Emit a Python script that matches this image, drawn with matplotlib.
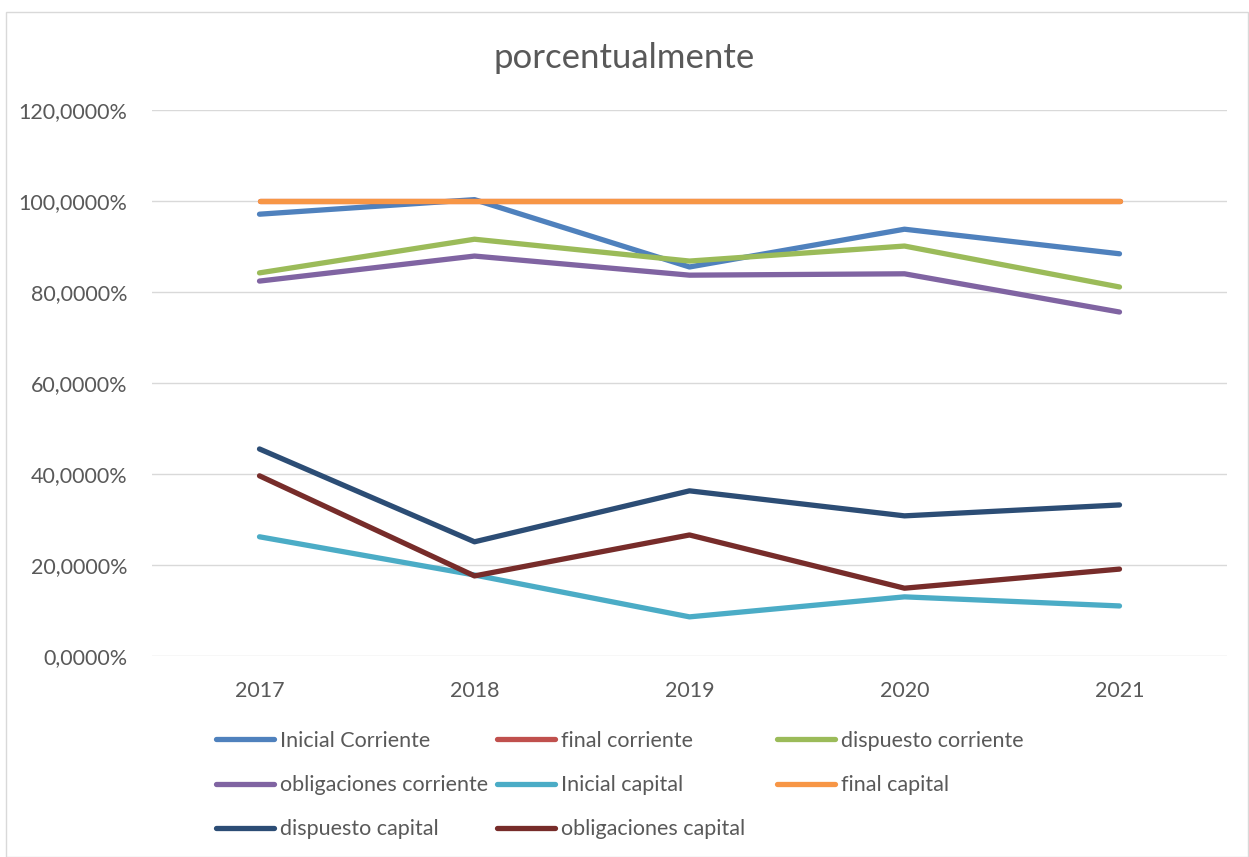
import matplotlib
matplotlib.use("Agg")
import matplotlib.pyplot as plt
from matplotlib.patches import Rectangle
from matplotlib.lines import Line2D

years = ["2017", "2018", "2019", "2020", "2021"]
inicial_corriente = [97.1, 100.3, 85.5, 93.8, 88.4]
final_corriente = [100.0, 100.0, 100.0, 100.0, 100.0]
dispuesto_corriente = [84.2, 91.6, 86.8, 90.1, 81.1]
obligaciones_corriente = [82.4, 87.9, 83.7, 84.0, 75.6]
inicial_capital = [26.2, 17.8, 8.6, 13.0, 11.0]
final_capital = [100.0, 100.0, 100.0, 100.0, 100.0]
dispuesto_capital = [45.5, 25.1, 36.3, 30.8, 33.2]
obligaciones_capital = [39.6, 17.6, 26.6, 14.9, 19.1]
yticks = [0, 20, 40, 60, 80, 100, 120]
ytick_labels = ["0,0000%", "20,0000%", "40,0000%", "60,0000%", "80,0000%", "100,0000%", "120,0000%"]

series = [
    ("Inicial Corriente", inicial_corriente, "#4F81BD"),
    ("final corriente", final_corriente, "#C0504D"),
    ("dispuesto corriente", dispuesto_corriente, "#9BBB59"),
    ("obligaciones corriente", obligaciones_corriente, "#8064A2"),
    ("Inicial capital", inicial_capital, "#4BACC6"),
    ("final capital", final_capital, "#F79646"),
    ("dispuesto capital", dispuesto_capital, "#2C4D75"),
    ("obligaciones capital", obligaciones_capital, "#772C2A"),
]

plt.rcParams['font.family'] = ['Lato', 'DejaVu Sans']
fig = plt.figure(figsize=(12.49, 8.57), dpi=100)
fig.patches.append(Rectangle((6/1249, 0), 1 - 6/1249 - 0.0005, 1 - 12/857, transform=fig.transFigure,
                             fill=False, edgecolor="#D9D9D9", linewidth=1.0))
ax = fig.add_axes([152/1249, 1 - 656/857, (1227 - 152)/1249, (656 - 110)/857])

x = list(range(len(years)))
handles = {}
for name, vals, col in series:
    ln, = ax.plot(x, vals, color=col, linewidth=3.8, solid_capstyle="round", solid_joinstyle="round", label=name)
    handles[name] = ln

ax.set_xlim(-0.5, len(years) - 0.5)
ax.set_ylim(0, 120)
ax.set_yticks(yticks)
ax.set_yticklabels(ytick_labels)
ax.set_xticks(x)
ax.set_xticklabels(years)
ax.grid(axis="y", color="#D9D9D9", linewidth=1.0)
ax.set_axisbelow(True)
for s in ax.spines.values():
    s.set_visible(False)
ax.tick_params(axis="both", length=0, labelsize=15.5, colors="#595959")
ax.tick_params(axis="y", pad=18)
ax.tick_params(axis="x", pad=18)

fig.text(0.5, 1 - 58/857, "porcentualmente", ha="center", va="center", fontsize=25, color="#595959")

cols = [
    (["Inicial Corriente", "obligaciones corriente", "dispuesto capital"], 216),
    (["final corriente", "Inicial capital", "obligaciones capital"], 497),
    (["dispuesto corriente", "final capital"], 777),
]
for names, xpx in cols:
    hs = [Line2D([], [], color=handles[n].get_color(), linewidth=3.8, solid_capstyle="round") for n in names]
    leg = fig.legend(hs, names, loc="upper left", bbox_to_anchor=(xpx/1249, 1 - 731/857),
                     frameon=False, fontsize=15.5, labelcolor="#595959", handlelength=2.7,
                     handletextpad=0.25, labelspacing=1.12, borderaxespad=0, borderpad=0)

fig.savefig("out.png", dpi=100)
